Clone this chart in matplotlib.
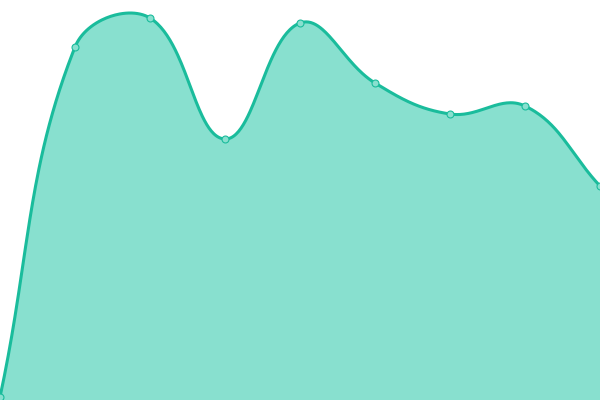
import numpy as np
import matplotlib
matplotlib.use("Agg")
import matplotlib.pyplot as plt

# Data
categories = list(range(9))
values = [3, 353, 382, 261, 377, 317, 286, 294, 214]

line_color = "#1abc9c"
fill_color = "#88e0cf"
tension = 0.4

fig = plt.figure(figsize=(6, 4), dpi=100)
ax = fig.add_axes([0, 0, 1, 1])
ax.set_xlim(0, 8)
ax.set_ylim(0, 400)
ax.axis("off")

# Chart.js-like spline control points computed in pixel space
xs = np.array(categories, dtype=float)
ys = np.array(values, dtype=float)
px = xs * 75.0
py = ys.copy()
n = len(px)
cps = []
for i in range(n):
    pi = max(i - 1, 0)
    ni = min(i + 1, n - 1)
    d01 = np.hypot(px[i] - px[pi], py[i] - py[pi])
    d12 = np.hypot(px[ni] - px[i], py[ni] - py[i])
    tot = d01 + d12
    s01 = d01 / tot if tot else 0
    s12 = d12 / tot if tot else 0
    fa = tension * s01
    fb = tension * s12
    cp_prev = (px[i] - fa * (px[ni] - px[pi]), py[i] - fa * (py[ni] - py[pi]))
    cp_next = (px[i] + fb * (px[ni] - px[pi]), py[i] + fb * (py[ni] - py[pi]))
    cp_prev = (np.clip(cp_prev[0], 0, 600), np.clip(cp_prev[1], 0, 400))
    cp_next = (np.clip(cp_next[0], 0, 600), np.clip(cp_next[1], 0, 400))
    cps.append((cp_prev, cp_next))

t = np.linspace(0, 1, 60)
cx, cy = [], []
for i in range(n - 1):
    p0 = np.array([px[i], py[i]])
    p1 = np.array(cps[i][1])
    p2 = np.array(cps[i + 1][0])
    p3 = np.array([px[i + 1], py[i + 1]])
    b = ((1 - t) ** 3)[:, None] * p0 + (3 * (1 - t) ** 2 * t)[:, None] * p1 \
        + (3 * (1 - t) * t ** 2)[:, None] * p2 + (t ** 3)[:, None] * p3
    cx.extend(b[:, 0] / 75.0)
    cy.extend(b[:, 1])
cx = np.array(cx)
cy = np.array(cy)

ax.fill_between(cx, 0, cy, color=fill_color, linewidth=0, zorder=1)
ax.plot(cx, cy, color=line_color, linewidth=2.2, zorder=2, solid_capstyle="round")
ax.plot(xs, ys, linestyle="none", marker="o", markersize=5,
        markerfacecolor=fill_color, markeredgecolor=line_color,
        markeredgewidth=0.8, zorder=3, clip_on=False)

fig.savefig("out.png", dpi=100)
